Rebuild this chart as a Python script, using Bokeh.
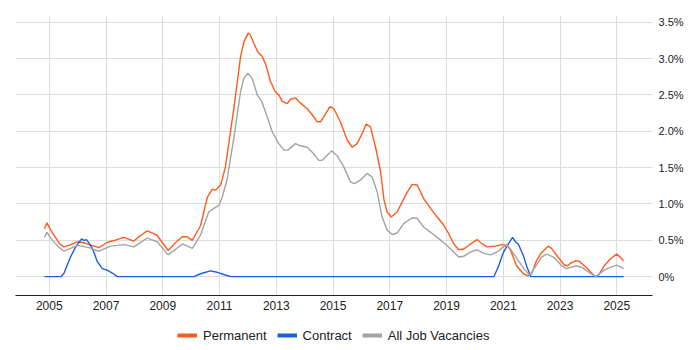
from bokeh.plotting import figure
from bokeh.models import Range1d, FixedTicker, Legend, LegendItem
from bokeh.layouts import column
from bokeh.embed import file_html
from bokeh.resources import INLINE

perm_x = [2004.83, 2004.92, 2005.05, 2005.2, 2005.35, 2005.51, 2005.7, 2005.99, 2006.2, 2006.4,
          2006.75, 2007.04, 2007.3, 2007.63, 2007.98, 2008.2, 2008.45, 2008.8, 2009.0, 2009.19,
          2009.45, 2009.69, 2009.85, 2010.04, 2010.33, 2010.57, 2010.74, 2010.86, 2011.04, 2011.21,
          2011.51, 2011.74, 2011.86, 2012.01, 2012.09, 2012.21, 2012.35, 2012.5, 2012.62, 2012.8,
          2012.97, 2013.09, 2013.21, 2013.39, 2013.5, 2013.68, 2013.85, 2014.09, 2014.32, 2014.44,
          2014.56, 2014.74, 2014.89, 2015.03, 2015.26, 2015.5, 2015.68, 2015.85, 2016.03, 2016.17,
          2016.32, 2016.5, 2016.67, 2016.8, 2016.91, 2017.05, 2017.26, 2017.61, 2017.79, 2017.97,
          2018.2, 2018.44, 2018.67, 2018.9, 2019.08, 2019.26, 2019.43, 2019.61, 2019.85, 2020.08,
          2020.26, 2020.43, 2020.73, 2020.95, 2021.14, 2021.25, 2021.47, 2021.71, 2021.88, 2022.0,
          2022.17, 2022.35, 2022.58, 2022.7, 2022.93, 2023.15, 2023.27, 2023.39, 2023.57, 2023.68,
          2023.92, 2024.09, 2024.24, 2024.36, 2024.56, 2024.79, 2025.0, 2025.12, 2025.24]
perm_y = [0.66, 0.74, 0.64, 0.55, 0.46, 0.41, 0.43, 0.48, 0.47, 0.44,
          0.40, 0.47, 0.50, 0.54, 0.49, 0.56, 0.63, 0.57, 0.46, 0.36,
          0.47, 0.55, 0.55, 0.50, 0.70, 1.09, 1.20, 1.19, 1.26, 1.51,
          2.33, 3.02, 3.23, 3.35, 3.32, 3.21, 3.09, 3.03, 2.93, 2.68,
          2.54, 2.50, 2.41, 2.38, 2.44, 2.46, 2.39, 2.31, 2.20, 2.13,
          2.13, 2.24, 2.34, 2.31, 2.13, 1.88, 1.78, 1.83, 1.97, 2.10,
          2.06, 1.78, 1.46, 1.05, 0.89, 0.82, 0.89, 1.16, 1.27, 1.26,
          1.07, 0.94, 0.82, 0.71, 0.59, 0.45, 0.37, 0.38, 0.45, 0.51,
          0.45, 0.41, 0.42, 0.44, 0.43, 0.37, 0.15, 0.04, 0.01, 0.04,
          0.22, 0.33, 0.42, 0.39, 0.27, 0.16, 0.15, 0.19, 0.22, 0.21,
          0.13, 0.06, 0.0, 0.02, 0.15, 0.25, 0.31, 0.27, 0.22]

contract_x = [2004.83, 2005.4, 2005.51, 2005.75, 2005.93, 2006.14, 2006.22, 2006.31, 2006.46, 2006.57,
              2006.69, 2006.87, 2007.04, 2007.22, 2007.4, 2010.1, 2010.33, 2010.68, 2010.92, 2011.15,
              2011.39, 2020.67, 2020.84, 2021.0, 2021.18, 2021.33, 2021.43, 2021.53, 2021.71, 2021.82,
              2021.97, 2025.24]
contract_y = [0.0, 0.0, 0.04, 0.27, 0.41, 0.52, 0.50, 0.51, 0.43, 0.34,
              0.21, 0.11, 0.09, 0.05, 0.0, 0.0, 0.04, 0.08, 0.06, 0.03,
              0.0, 0.0, 0.15, 0.33, 0.45, 0.54, 0.48, 0.45, 0.29, 0.15,
              0.0, 0.0]

all_x = [2004.83, 2004.92, 2005.05, 2005.3, 2005.51, 2005.75, 2005.99, 2006.4, 2006.75, 2007.16,
         2007.63, 2007.98, 2008.45, 2008.8, 2009.19, 2009.69, 2010.04, 2010.33, 2010.62, 2010.8,
         2010.98, 2011.1, 2011.27, 2011.51, 2011.74, 2011.86, 2012.0, 2012.15, 2012.33, 2012.5,
         2012.68, 2012.86, 2013.09, 2013.27, 2013.41, 2013.68, 2013.85, 2014.09, 2014.32, 2014.5,
         2014.62, 2014.8, 2014.95, 2015.15, 2015.38, 2015.62, 2015.76, 2015.97, 2016.2, 2016.38,
         2016.56, 2016.73, 2016.91, 2017.09, 2017.26, 2017.49, 2017.79, 2017.97, 2018.2, 2018.44,
         2018.67, 2018.96, 2019.2, 2019.43, 2019.61, 2019.85, 2020.08, 2020.32, 2020.55, 2020.79,
         2021.0, 2021.14, 2021.24, 2021.53, 2021.77, 2021.94, 2022.12, 2022.35, 2022.53, 2022.77,
         2023.06, 2023.23, 2023.57, 2023.8, 2024.09, 2024.26, 2024.56, 2024.79, 2025.0, 2025.24]
all_y = [0.54, 0.61, 0.53, 0.42, 0.35, 0.39, 0.43, 0.40, 0.35, 0.42,
         0.44, 0.41, 0.53, 0.48, 0.30, 0.45, 0.39, 0.57, 0.89, 0.94,
         0.98, 1.10, 1.34, 1.92, 2.54, 2.73, 2.80, 2.73, 2.50, 2.40,
         2.20, 1.99, 1.83, 1.74, 1.74, 1.83, 1.80, 1.78, 1.69, 1.60,
         1.60, 1.67, 1.73, 1.66, 1.51, 1.30, 1.28, 1.33, 1.42, 1.37,
         1.16, 0.82, 0.64, 0.58, 0.60, 0.73, 0.81, 0.80, 0.68, 0.61,
         0.54, 0.45, 0.36, 0.27, 0.28, 0.34, 0.37, 0.32, 0.30, 0.34,
         0.41, 0.43, 0.39, 0.22, 0.09, 0.02, 0.13, 0.27, 0.31, 0.27,
         0.15, 0.11, 0.15, 0.12, 0.04, 0.0, 0.09, 0.13, 0.16, 0.11]

x_ticks = [2005, 2007, 2009, 2011, 2013, 2015, 2017, 2019, 2021, 2023, 2025]
y_ticks = [0, 0.5, 1.0, 1.5, 2.0, 2.5, 3.0, 3.5]
y_labels = ["0%", "0.5%", "1.0%", "1.5%", "2.0%", "2.5%", "3.0%", "3.5%"]
series_names = ["Permanent", "Contract", "All Job Vacancies"]
series_colors = ["#ff5a1a", "#1a5fe0", "#a3a3a3"]

FONT = "Liberation Sans"

p = figure(width=692, height=320, output_backend="svg", toolbar_location=None,
           x_range=Range1d(2003.81, 2026.26), y_range=Range1d(-0.259, 3.592),
           y_axis_location="right", min_border_left=15, min_border_top=15,
           min_border_right=40, min_border_bottom=25)
p.outline_line_color = None
p.background_fill_color = "white"
p.border_fill_color = "white"

p.line(perm_x, perm_y, line_color=series_colors[0], line_width=1.4)
p.line(contract_x, contract_y, line_color=series_colors[1], line_width=1.4)
p.line(all_x, all_y, line_color=series_colors[2], line_width=1.4)

p.xaxis.ticker = FixedTicker(ticks=x_ticks)
p.yaxis.ticker = FixedTicker(ticks=y_ticks)
p.yaxis.major_label_overrides = {t: l for t, l in zip(y_ticks, y_labels)}
p.xaxis.major_label_overrides = {t: str(t) for t in x_ticks}

p.xgrid.grid_line_color = "#dddddd"
p.ygrid.grid_line_color = "#dddddd"

p.xaxis.axis_line_color = "#222222"
p.xaxis.axis_line_width = 1.2
p.xaxis.major_tick_line_color = None
p.xaxis.minor_tick_line_color = None
p.xaxis.major_tick_out = 0
p.xaxis.major_tick_in = 0
p.xaxis.major_label_standoff = 5
p.xaxis.major_label_text_font = FONT
p.xaxis.major_label_text_font_size = "12px"
p.xaxis.major_label_text_color = "#222222"

p.yaxis.axis_line_color = None
p.yaxis.major_tick_line_color = None
p.yaxis.minor_tick_line_color = None
p.yaxis.major_tick_out = 0
p.yaxis.major_tick_in = 0
p.yaxis.major_label_standoff = 6
p.yaxis.major_label_text_font = FONT
p.yaxis.major_label_text_font_size = "11px"
p.yaxis.major_label_text_color = "#222222"

# legend strip below the chart
lg = figure(width=692, height=30, output_backend="svg", toolbar_location=None,
            x_range=Range1d(0, 1), y_range=Range1d(0, 1),
            min_border_left=0, min_border_right=0, min_border_top=0, min_border_bottom=0)
lg.outline_line_color = None
lg.axis.visible = False
lg.grid.visible = False
swatches = [lg.line([-5, -4], [-5, -4], line_color=c, line_width=4) for c in series_colors]
legend = Legend(items=[LegendItem(label=n, renderers=[r]) for n, r in zip(series_names, swatches)],
                orientation="horizontal", location=(162, 7))
legend.border_line_color = None
legend.background_fill_alpha = 0
legend.label_text_font = FONT
legend.label_text_font_size = "13px"
legend.label_text_color = "#222222"
legend.glyph_width = 20
legend.glyph_height = 16
legend.label_height = 16
legend.label_standoff = 6
legend.spacing = 10
legend.margin = 0
legend.padding = 0
lg.add_layout(legend, "center")

layout = column(p, lg, spacing=0)
open("out.html", "w").write(file_html(layout, INLINE))
